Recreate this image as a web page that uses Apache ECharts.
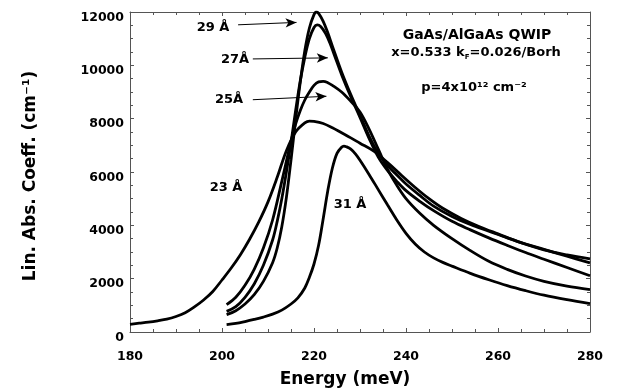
<!DOCTYPE html>
<html>
<head>
<meta charset="utf-8">
<script src="https://cdn.jsdelivr.net/npm/echarts@6/dist/echarts.min.js"></script>
<style>
html,body{margin:0;padding:0;background:#fff;}
#chart{width:618px;height:392px;}
</style>
</head>
<body>
<div id="chart"></div>
<script>
// ---- data (Energy in meV, absorption in cm^-1) ----
var e23 = [180,182,184,186,188,190,192,194,196,198,200,202,204,206,208,210,212,214,216,218,219,220,222,224,226,228,230,233,236,239,242,245,248,252,256,260,265,270,275,280];
var v23 = [290,330,370,420,480,580,720,940,1200,1520,1950,2400,2900,3480,4130,4880,5800,6800,7500,7840,7910,7900,7820,7660,7470,7280,7080,6780,6350,5880,5420,5000,4640,4260,3950,3680,3350,3080,2890,2740];

var e25 = [201,203,205,207,209,211,213,215,216,217,218,219,220,221,222,223,224,226,228,230,232,234,236,238,240,243,246,250,254,258,262,266,270,275,280];
var v25 = [1025,1300,1750,2350,3150,4200,5650,7150,7800,8300,8700,9000,9250,9380,9400,9350,9250,9000,8650,8250,7600,6850,6100,5500,5000,4450,4000,3500,3050,2650,2350,2100,1900,1720,1590];

var e27 = [201,203,205,207,209,211,212,213,214,215,216,217,218,219,220,220.7,221.5,222.5,223.5,224.5,226,228,230,232,234,236,238,240,243,246,250,254,258,262,266,270,275,280];
var v27 = [775,950,1300,1800,2500,3450,4150,5000,6000,7100,8300,9400,10300,11000,11420,11520,11450,11200,10820,10350,9650,8820,8050,7250,6550,6050,5650,5300,4900,4550,4150,3830,3530,3250,2980,2730,2420,2110];

var e29 = [201,203,205,207,209,211,212,213,214,215,216,217,218,219,220,220.5,221,222,223,224,226,228,230,232,234,236,238,240,243,246,250,254,258,262,266,270,275,280];
var v29 = [650,800,1050,1400,1900,2600,3150,3950,5050,6450,7950,9350,10550,11400,11900,12000,11950,11650,11220,10720,9750,8900,8120,7340,6690,6240,5890,5550,5120,4720,4330,4030,3780,3530,3300,3100,2840,2590];

var e31 = [201,203,205,207,209,211,213,215,216.5,218,219,220,221,222,223,224,225,226,226.5,227,228,229,230,232,234,236,238,240,242,244,246,248,250,254,258,262,266,270,275,280];
var v31 = [275,320,390,470,560,670,820,1050,1280,1650,2050,2550,3250,4250,5300,6150,6700,6930,6970,6950,6860,6680,6440,5900,5330,4760,4200,3700,3300,3000,2780,2610,2470,2200,1960,1740,1550,1380,1210,1060];

// axis ranges / tick steps
var xMin = 180, xMax = 280, xStep = 20;
var yMin = 0, yMax = 12000, yStep = 2000;

// arrow annotations [fromEnergy, fromValue, toEnergy, toValue]
var arrow29 = [203.5, 11520, 216.2, 11610];
var arrow27 = [206.7, 10240, 223.0, 10280];
var arrow25 = [206.7, 8710, 222.7, 8840];

function pairs(xs, ys){ return xs.map(function(x,i){ return [x, ys[i]]; }); }

var FONT = 'DejaVu Sans';
var chart = echarts.init(document.getElementById('chart'), null, {renderer:'canvas'});

var axisLineStyle = {color:'#555', width:1};
function xAx(pos, showLabel){
  return {
    type:'value', position:pos, min:xMin, max:xMax, interval:xStep,
    axisLine:{show:true, onZero:false, lineStyle:axisLineStyle},
    axisTick:{show:true, inside:true, length:4, lineStyle:axisLineStyle},
    minorTick:{show:true, splitNumber:4, length:3, lineStyle:axisLineStyle},
    splitLine:{show:false}, minorSplitLine:{show:false},
    axisLabel:{show:showLabel, color:'#000', fontFamily:FONT, fontWeight:'bold', fontSize:12.5, margin:18,
      formatter:function(v){ return String(v); }}
  };
}
function yAx(pos, showLabel){
  return {
    type:'value', position:pos, min:yMin, max:yMax, interval:yStep,
    axisLine:{show:true, onZero:false, lineStyle:axisLineStyle},
    axisTick:{show:true, inside:true, length:4, lineStyle:axisLineStyle},
    minorTick:{show:true, splitNumber:4, length:3, lineStyle:axisLineStyle},
    splitLine:{show:false}, minorSplitLine:{show:false},
    axisLabel:{show:showLabel, color:'#000', fontFamily:FONT, fontWeight:'bold', fontSize:12.5, margin:6,
      verticalAlign:'top', lineHeight:11,
      formatter:function(v){ return String(v); }}
  };
}

function ser(name, xs, ys){
  return {
    name:name, type:'line', xAxisIndex:0, yAxisIndex:0, data:pairs(xs, ys),
    smooth:0.35, showSymbol:false, symbol:'none',
    lineStyle:{color:'#000', width:2.8}, z:3
  };
}

function arrowLine(a){ return [{coord:[a[0],a[1]]},{coord:[a[2],a[3]]}]; }

var s23 = ser('23 Å', e23, v23);
s23.markLine = {
  silent:true, animation:false, symbol:['none','arrow'], symbolSize:[7,11],
  lineStyle:{color:'#000', width:1, type:'solid'}, label:{show:false},
  data:[arrowLine(arrow29), arrowLine(arrow27), arrowLine(arrow25)]
};

var txt = function(x, y, text, size){
  return {type:'text', x:x, y:y, z:10,
    style:{text:text, fill:'#000', font:'bold '+size+'px "'+FONT+'"', textAlign:'center', textVerticalAlign:'middle'}};
};

var option = {
  animation:false,
  backgroundColor:'#fff',
  grid:{left:130, top:12, right:28, bottom:60, containLabel:false},
  xAxis:[xAx('bottom', true), xAx('top', false)],
  yAxis:[yAx('left', true), yAx('right', false)],
  series:[s23, ser('25 Å', e25, v25), ser('27 Å', e27, v27), ser('29 Å', e29, v29), ser('31 Å', e31, v31)],
  graphic:[
    txt(345, 380, 'Energy (meV)', 17),
    {type:'text', x:31, y:176, rotation:Math.PI/2, z:10,
     style:{text:'Lin. Abs. Coeff. (cm⁻¹)', fill:'#000', font:'bold 17px "'+FONT+'"', textAlign:'center', textVerticalAlign:'middle'}},
    txt(213, 28, '29 Å', 13),
    txt(235, 60, '27Å', 13),
    txt(229, 100, '25Å', 13),
    txt(226, 188, '23 Å', 13),
    txt(350, 205, '31 Å', 13),
    txt(477, 35, 'GaAs/AlGaAs QWIP', 14),
    {type:'text', x:476, y:53, z:10,
     style:{text:'{m|x=0.533 k}{s|F}{m|=0.026/Borh}', fill:'#000', textAlign:'center', textVerticalAlign:'middle',
       rich:{ m:{font:'bold 13px "'+FONT+'"', fill:'#000', lineHeight:16, verticalAlign:'middle'},
              s:{font:'bold 7px "'+FONT+'"', fill:'#000', lineHeight:16, verticalAlign:'bottom', padding:[10,0,0,0]} }}},
    txt(474, 88, 'p=4x10¹² cm⁻²', 13)
  ]
};
chart.setOption(option);
</script>
</body>
</html>
